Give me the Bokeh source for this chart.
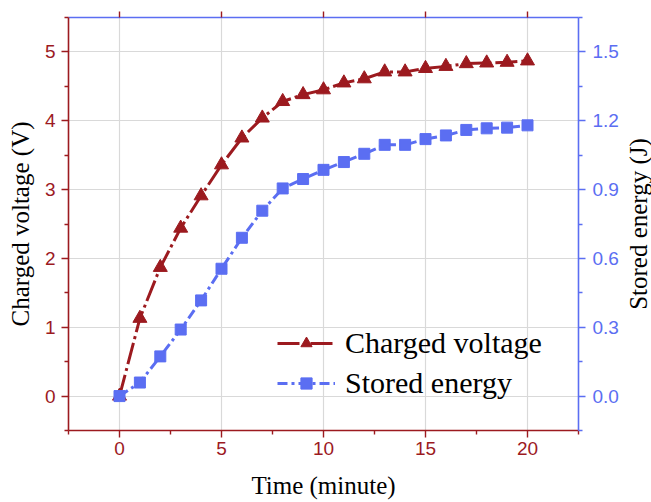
import math
from bokeh.plotting import figure
from bokeh.layouts import row
from bokeh.models import (Range1d, LinearAxis, FixedTicker, Legend, LegendItem)
from bokeh.embed import file_html
from bokeh.resources import INLINE

# ---- data ----
time_min = list(range(21))
voltage = [0, 1.13, 1.87, 2.44, 2.91, 3.36, 3.75, 4.04, 4.28, 4.38, 4.45,
           4.55, 4.61, 4.71, 4.71, 4.76, 4.79, 4.83, 4.84, 4.85, 4.87]
energy = [0, 0.059, 0.173, 0.29, 0.417, 0.555, 0.69, 0.808, 0.905, 0.946, 0.986,
          1.02, 1.056, 1.095, 1.095, 1.12, 1.136, 1.16, 1.167, 1.17, 1.18]
x_ticks = [0, 5, 10, 15, 20]
x_minor = [-2.5, 2.5, 7.5, 12.5, 17.5, 22.5]
v_ticks = [0, 1, 2, 3, 4, 5]
v_minor = [-0.5, 0.5, 1.5, 2.5, 3.5, 4.5, 5.5]
e_ticks = [0.0, 0.3, 0.6, 0.9, 1.2, 1.5]
e_minor = [-0.15, 0.15, 0.45, 0.75, 1.05, 1.35, 1.65]
series_names = ["Charged voltage", "Stored energy"]
right_title = "Stored energy (J)"

RED = "#9c1a1f"
BLUE = "#5b6ef2"

p = figure(width=622, height=502, output_backend="svg", toolbar_location=None,
           x_range=Range1d(-2.5, 22.5), y_range=Range1d(-0.5, 5.5),
           min_border_left=68, min_border_right=44, min_border_top=17,
           min_border_bottom=72, x_axis_location=None, y_axis_location=None)
p.outline_line_color = None
p.background_fill_color = "white"
p.border_fill_color = "white"
p.extra_y_ranges = {"energy": Range1d(-0.15, 1.65)}

def style_axis(ax, color, ticks, minor, label=None):
    ax.ticker = FixedTicker(ticks=ticks, minor_ticks=minor)
    ax.axis_line_color = color
    ax.axis_line_width = 1.6
    ax.major_tick_line_color = color
    ax.minor_tick_line_color = color
    ax.major_tick_line_width = 1.4
    ax.minor_tick_line_width = 1.4
    ax.major_tick_in = 0
    ax.major_tick_out = 7
    ax.minor_tick_in = 0
    ax.minor_tick_out = 4
    ax.major_label_text_color = color
    ax.major_label_text_font = "Liberation Sans"
    ax.major_label_text_font_size = "19px"
    if label:
        ax.axis_label = label
        ax.axis_label_text_font = "Liberation Serif"
        ax.axis_label_text_font_size = "25px"
        ax.axis_label_text_font_style = "normal"
        ax.axis_label_text_color = "black"

xb = LinearAxis()
style_axis(xb, RED, x_ticks, x_minor, "Time (minute)")
xb.major_label_standoff = 4
xb.axis_label_standoff = 14
p.add_layout(xb, "below")

yl = LinearAxis()
style_axis(yl, RED, v_ticks, v_minor, "Charged voltage (V)")
yl.major_label_standoff = 6
yl.axis_label_standoff = 8
p.add_layout(yl, "left")

yr = LinearAxis(y_range_name="energy")
style_axis(yr, BLUE, e_ticks, e_minor)
yr.major_label_standoff = 7
yr.major_label_overrides = {t: f"{t:.1f}" for t in e_ticks}
p.add_layout(yr, "right")

xt = LinearAxis()
style_axis(xt, BLUE, x_ticks, x_minor)
xt.major_tick_line_color = RED
xt.minor_tick_line_color = None
xt.major_tick_out = 6
xt.major_label_text_font_size = "0px"
xt.major_label_text_color = None
p.add_layout(xt, "above")

p.xgrid.ticker = FixedTicker(ticks=x_ticks)
p.ygrid.ticker = FixedTicker(ticks=v_ticks)
p.grid.grid_line_color = "#d9d9d9"
p.grid.grid_line_width = 1.2

l1 = p.line(time_min, voltage, line_color=RED, line_width=3, line_dash="22 4 3 4")
s1 = p.scatter(time_min, voltage, marker="triangle", size=14, fill_color=RED,
               line_color=RED)
l2 = p.line(time_min, energy, y_range_name="energy", line_color=BLUE, line_width=3,
            line_dash="10 4 3 4")
s2 = p.scatter(time_min, energy, y_range_name="energy", marker="square", size=11,
               fill_color=BLUE, line_color=BLUE)

legend = Legend(items=[LegendItem(label=series_names[0], renderers=[l1, s1]),
                       LegendItem(label=series_names[1], renderers=[l2, s2])],
                location=(209, 27), padding=0, margin=0, spacing=0,
                glyph_width=58, glyph_height=28, label_height=40,
                label_standoff=10, label_text_font="Liberation Serif",
                label_text_font_size="30px", label_text_color="black",
                background_fill_alpha=0, border_line_color=None)
p.add_layout(legend, "center")

# narrow strip whose (invisible) left axis carries the right-hand title,
# so that it reads bottom to top like the reference
q = figure(width=29, height=502, output_backend="svg", toolbar_location=None,
           x_range=Range1d(0, 1), y_range=Range1d(0, 1),
           min_border_left=0, min_border_right=0, min_border_top=17,
           min_border_bottom=72, x_axis_location=None, y_axis_location=None)
q.outline_line_color = None
q.grid.visible = False
q.border_fill_color = "white"
q.background_fill_color = "white"
qa = LinearAxis(ticker=FixedTicker(ticks=[]))
qa.axis_line_color = None
qa.major_tick_line_color = None
qa.minor_tick_line_color = None
qa.major_tick_out = 0
qa.major_tick_in = 0
qa.minor_tick_out = 0
qa.major_label_standoff = 0
qa.major_label_text_font_size = "0px"
qa.axis_label = right_title
qa.axis_label_standoff = 0
qa.axis_label_text_font = "Liberation Serif"
qa.axis_label_text_font_size = "25px"
qa.axis_label_text_font_style = "normal"
qa.axis_label_text_color = "black"
q.add_layout(qa, "left")

layout = row(p, q, spacing=0)
open("out.html", "w").write(file_html(layout, INLINE))
